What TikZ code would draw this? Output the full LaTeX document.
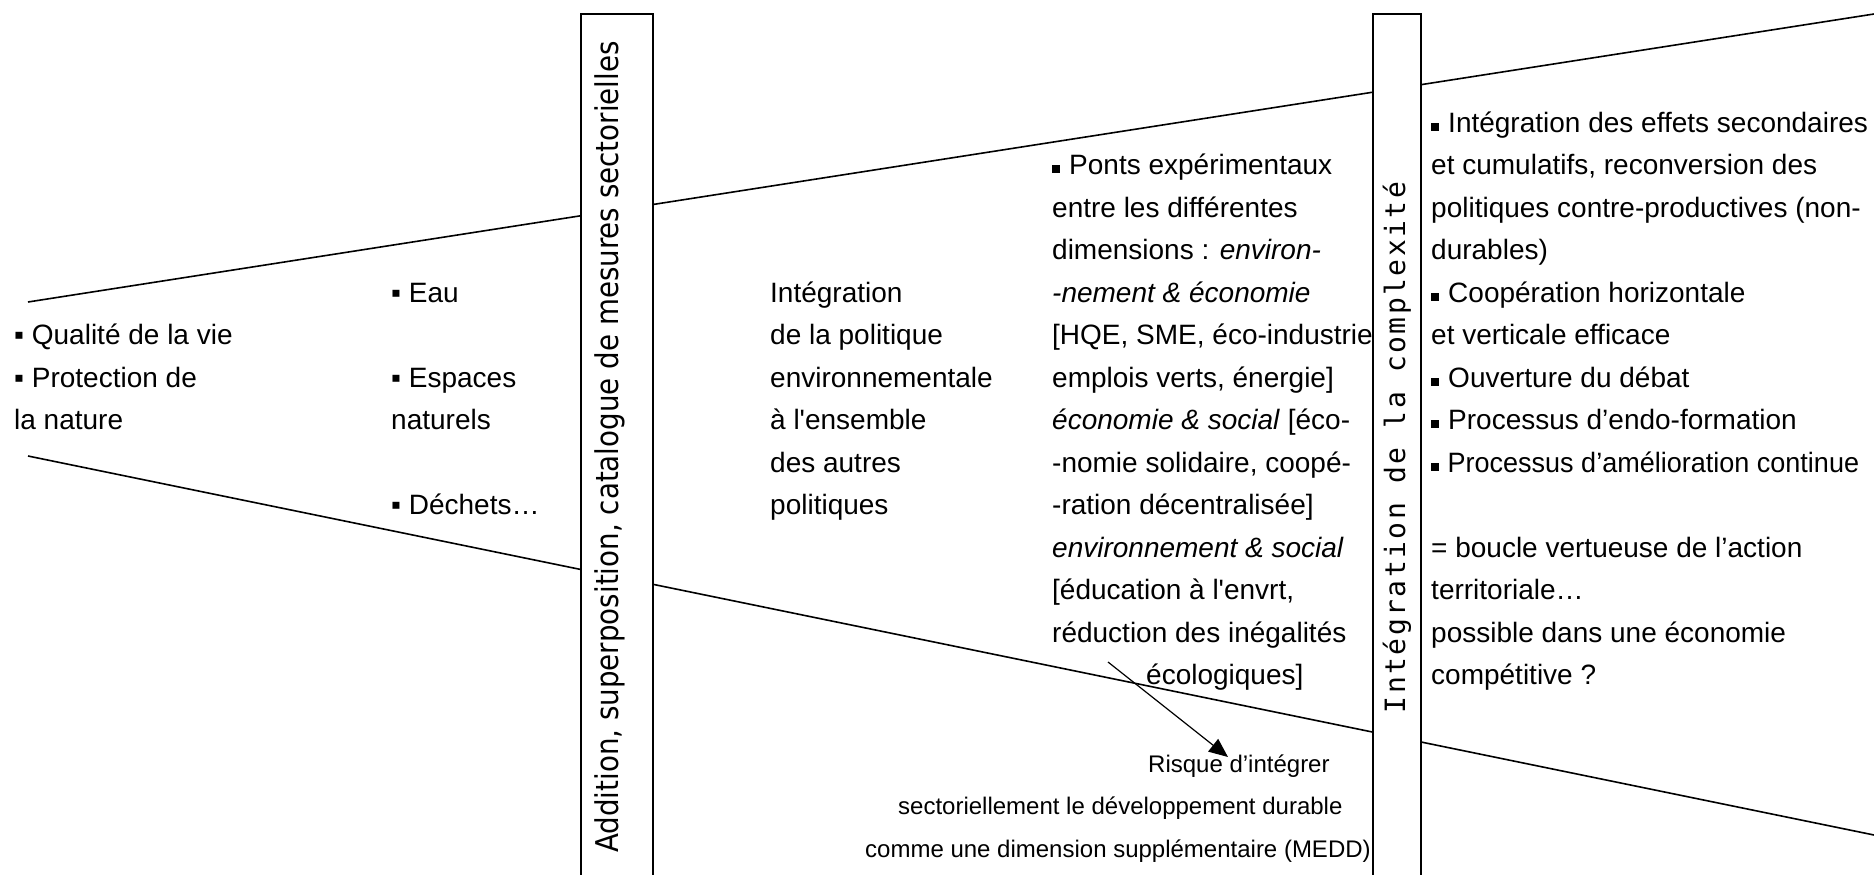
\documentclass[tikz,border=0pt]{standalone}
\usepackage{fontspec}
\usetikzlibrary{arrows.meta}
\newfontfamily\arialf{Liberation Sans}
\newfontfamily\verdf{DejaVu Sans}
\newfontfamily\monof[LetterSpace=8.8]{DejaVu Sans Mono}
\newcommand{\linestack}[1]{\vtop{\halign{##\hfil\cr#1\crcr}}}
\newcommand{\sqb}{\raisebox{1.5pt}{\rule{8pt}{8pt}}\hspace{9pt}}
\begin{document}
\begin{tikzpicture}[x=1pt,y=-1pt,
  body/.style={font=\arialf\fontsize{28}{42.5}\selectfont, inner sep=0pt, anchor=base west},
  small/.style={font=\arialf\fontsize{24}{42.5}\selectfont, inner sep=0pt, anchor=base west},
  funnel/.style={line width=1.6pt, black},
  bar/.style={draw, line width=1.5pt, fill=white, inner sep=0pt, minimum height=868pt},
  bartext/.style={rotate=90, inner sep=0pt},
  pointer/.style={line width=1.2pt, -{Triangle[length=19pt,width=16pt]}}
]
\useasboundingbox (0,0) rectangle (1874,875);
% funnel lines
\coordinate (ua) at (28,302);
\coordinate (ub) at (1874,14);
\coordinate (la) at (28,456);
\coordinate (lb) at (1874,835);
\draw[funnel] (ua) -- (ub);
\draw[funnel] (la) -- (lb);
% text columns
\node[body] (c1) at (14,344.5) {\linestack{▪ Qualité de la vie\cr ▪ Protection de\cr la nature}};
\node[body] (c2) at (391,302) {\linestack{▪ Eau\cr\cr ▪ Espaces\cr naturels\cr\cr ▪ Déchets…}};
\node[body] (c3) at (770,302) {\linestack{Intégration\cr de la politique\cr environnementale\cr à l'ensemble\cr des autres\cr politiques}};
\node[body] (c4) at (1052,174.5) {\linestack{\sqb Ponts expérimentaux\cr entre les différentes\cr dimensions : \textit{environ-}\cr \textit{-nement \& économie}\cr [HQE, SME, éco-industrie\cr emplois verts, énergie]\cr \textit{économie \& social} [éco-\cr -nomie solidaire, coopé-\cr -ration décentralisée]\cr \textit{environnement \& social}\cr [éducation à l'envrt,\cr réduction des inégalités\cr \hspace*{94pt}écologiques]}};
\node[body] (c5) at (1431,132) {\linestack{\sqb Intégration des effets secondaires\cr et cumulatifs, reconversion des\cr politiques contre-productives (non-\cr durables)\cr \sqb Coopération horizontale\cr et verticale efficace\cr \sqb Ouverture du débat\cr \sqb Processus d’endo-formation\cr \scalebox{0.965}[1]{\sqb Processus d’amélioration continue}\cr\cr = boucle vertueuse de l’action\cr territoriale…\cr possible dans une économie\cr compétitive ?}};
\node[small] (risk) at (865,772) {\linestack{\hspace*{283pt}Risque d’intégrer\cr \hspace*{33pt}sectoriellement le développement durable\cr comme une dimension supplémentaire (MEDD)}};
% vertical bars
\node[bar, minimum width=72pt] (box1) at (617,448) {};
\node[bar, minimum width=48pt] (box2) at (1397,448) {};
\node[bartext, font=\verdf\fontsize{28}{34}\selectfont] (t1) at (610,447) {\scalebox{0.99}[1.12]{Addition, superposition, catalogue de mesures sectorielles}};
\node[bartext, font=\monof\fontsize{28}{34}\selectfont] (t2) at (1397,447.5) {Intégration de la complexité};
% arrow
\coordinate (as) at (1108,662);
\coordinate (ae) at (1228,757);
\draw[pointer] (as) -- (ae);
\end{tikzpicture}
\end{document}
